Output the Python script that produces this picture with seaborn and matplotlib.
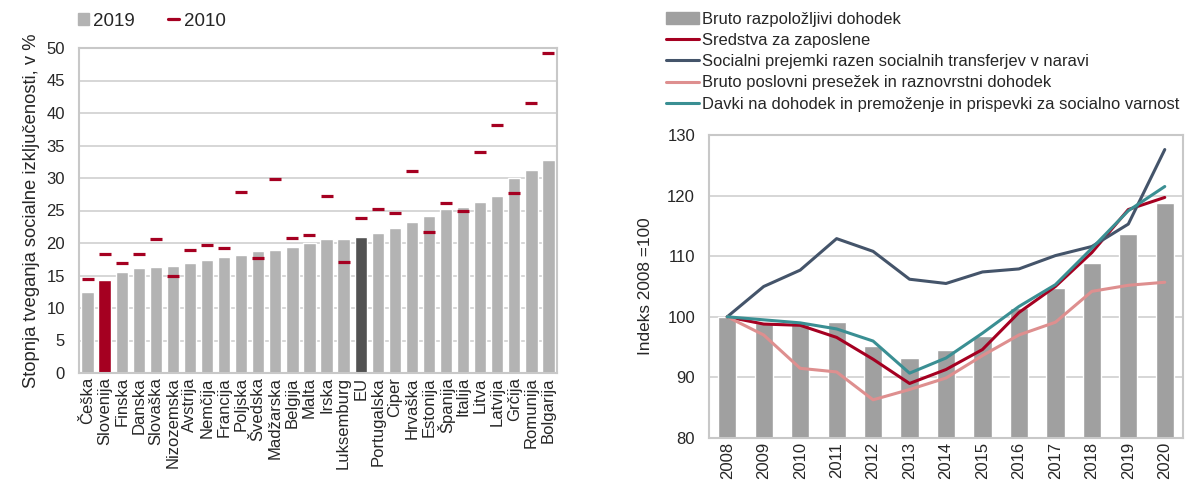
import numpy as np
import matplotlib
matplotlib.use("Agg")
import matplotlib.pyplot as plt
from matplotlib.patches import Patch
from matplotlib.lines import Line2D
import seaborn as sns

# left chart: risk of social exclusion, %
countries = ["Češka", "Slovenija", "Finska", "Danska", "Slovaška", "Nizozemska",
             "Avstrija", "Nemčija", "Francija", "Poljska", "Švedska", "Madžarska",
             "Belgija", "Malta", "Irska", "Luksemburg", "EU", "Portugalska", "Ciper",
             "Hrvaška", "Estonija", "Španija", "Italija", "Litva", "Latvija", "Grčija",
             "Romunija", "Bolgarija"]
v2019 = [12.4, 14.3, 15.5, 16.2, 16.3, 16.4, 16.9, 17.4, 17.9, 18.1, 18.8, 18.9,
         19.4, 20.0, 20.6, 20.6, 20.9, 21.5, 22.3, 23.2, 24.2, 25.2, 25.5, 26.3,
         27.2, 30.0, 31.2, 32.8]
v2010 = [14.4, 18.3, 16.9, 18.3, 20.6, 15.0, 18.9, 19.7, 19.2, 27.8, 17.7, 29.9,
         20.8, 21.2, 27.3, 17.1, 23.8, 25.3, 24.6, 31.1, 21.7, 26.1, 25.0, 34.0,
         38.2, 27.7, 41.5, 49.3]

# right chart: index 2008 = 100
years = [2008, 2009, 2010, 2011, 2012, 2013, 2014, 2015, 2016, 2017, 2018, 2019, 2020]
bruto_razp = [100, 98.9, 99.1, 99.2, 95.2, 93.2, 94.6, 96.9, 101.5, 104.8, 108.9, 113.7, 118.8]
sredstva = [100, 98.8, 98.6, 96.6, 93.0, 89.0, 91.3, 94.6, 100.7, 105.0, 110.6, 117.7, 119.7]
socialni = [100, 105.0, 107.7, 112.9, 110.8, 106.2, 105.5, 107.4, 107.9, 110.1, 111.6, 115.3, 127.6]
poslovni = [100, 97.0, 91.5, 90.9, 86.3, 88.0, 89.9, 93.6, 97.0, 99.1, 104.2, 105.2, 105.7]
davki = [100, 99.5, 99.0, 98.0, 96.0, 90.7, 93.2, 97.3, 101.7, 105.3, 111.3, 117.5, 121.5]

names = ["Bruto razpoložljivi dohodek", "Sredstva za zaposlene",
         "Socialni prejemki razen socialnih transferjev v naravi",
         "Bruto poslovni presežek in raznovrstni dohodek",
         "Davki na dohodek in premoženje in prispevki za socialno varnost"]

sns.set_style("white")
plt.rcParams["font.family"] = ["Liberation Sans", "DejaVu Sans"]

RED = "#a50021"
GRID = "#d3d3d3"

fig = plt.figure(figsize=(11.92, 4.88), dpi=100)
ax1 = fig.add_axes([79 / 1192, 1 - 373 / 488, (557 - 79) / 1192, (373 - 48) / 488])
ax2 = fig.add_axes([709 / 1192, 1 - 438 / 488, (1183 - 709) / 1192, (438 - 135) / 488])

# ---- left
bar_cols = ["#b3b3b3"] * len(countries)
bar_cols[countries.index("Slovenija")] = RED
bar_cols[countries.index("EU")] = "#525252"
sns.barplot(x=countries, y=v2019, hue=countries, palette=bar_cols, legend=False,
            width=0.72, saturation=1, ax=ax1, zorder=2)
ax1.plot(np.arange(len(countries)), v2010, ls="none", marker="_", color=RED,
         markersize=9.2, markeredgewidth=2.3, zorder=3)
ax1.set_xlim(-0.5, len(countries) - 0.5)
ax1.set_ylim(0, 50)
ax1.set_yticks(range(0, 51, 5))
ax1.yaxis.grid(True, color=GRID, lw=1.3, zorder=0)
ax1.set_axisbelow(True)
ax1.tick_params(axis="x", rotation=90, labelsize=12, length=0, pad=3)
ax1.tick_params(axis="y", labelsize=12, length=0, pad=10)
ax1.set_ylabel("Stopnja tveganja socialne izključenosti, v %", fontsize=13.2, labelpad=5)
for s in ax1.spines.values():
    s.set_color("#c8c8c8")
    s.set_linewidth(1.5)

h1 = [Patch(color="#b3b3b3"), Line2D([], [], color=RED, lw=2.3)]
fig.legend(h1, ["2019", "2010"], loc="center left", bbox_to_anchor=(70 / 1192, 1 - 21 / 488),
           ncol=2, frameon=False, fontsize=13.5, handlelength=0.6, handleheight=0.6,
           handletextpad=0.25, columnspacing=1.75, borderaxespad=0)

# ---- right
sns.barplot(x=years, y=bruto_razp, native_scale=True, width=0.5, color="#a0a0a0",
            saturation=1, ax=ax2, zorder=2)
line_cols = [RED, "#44546a", "#de8f8f", "#3a8f93"]
for vals, col in zip([sredstva, socialni, poslovni, davki], line_cols):
    sns.lineplot(x=years, y=vals, color=col, lw=2.2, ax=ax2, zorder=3)
ax2.set_xlim(years[0] - 0.5, years[-1] + 0.5)
ax2.set_ylim(80, 130)
ax2.set_xticks(years)
ax2.set_xticklabels([str(y) for y in years])
ax2.set_yticks(range(80, 131, 10))
ax2.yaxis.grid(True, color=GRID, lw=1.3, zorder=0)
ax2.set_axisbelow(True)
ax2.tick_params(axis="x", rotation=90, labelsize=12, length=0, pad=3)
ax2.tick_params(axis="y", labelsize=12, length=0, pad=10)
ax2.set_ylabel("Indeks 2008 =100", fontsize=12.4, labelpad=10)
for s in ax2.spines.values():
    s.set_color("#c8c8c8")
    s.set_linewidth(1.5)

h2 = [Patch(color="#a0a0a0")] + [Line2D([], [], color=c, lw=2.2) for c in line_cols]
fig.legend(h2, names, loc="upper left", bbox_to_anchor=(659 / 1192, 1 - 5 / 488),
           frameon=False, fontsize=11.9, handlelength=2.0, handleheight=0.7,
           handletextpad=0.2, labelspacing=0.38, borderaxespad=0)

fig.savefig("out.png", dpi=100)
